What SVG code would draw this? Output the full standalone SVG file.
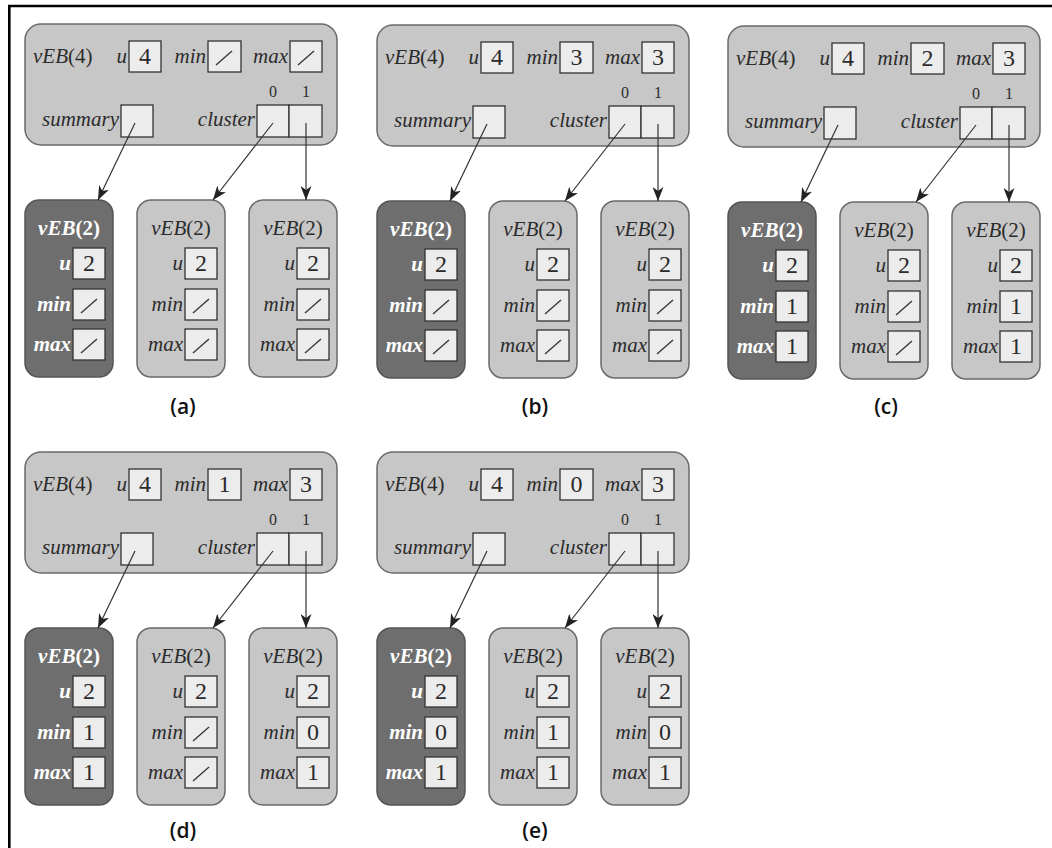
<svg xmlns="http://www.w3.org/2000/svg" width="1052" height="848" viewBox="0 0 1052 848">
<defs>
<style>
.bg{fill:#ffffff}
.frame{stroke:#000;stroke-width:2.6;fill:none}
.big{fill:#c7c7c7;stroke:#6a6a6a;stroke-width:1.5}
.light{fill:#c7c7c7;stroke:#6a6a6a;stroke-width:1.5}
.dark{fill:#6e6e6e;stroke:#555;stroke-width:1.5}
.box{fill:#ececec;stroke:#333;stroke-width:1.3}
.nil{stroke:#333;stroke-width:1.3;fill:none}
.lbl{font-family:"Liberation Serif",serif;font-size:21px;fill:#2b2b2b}
.it{font-style:italic}
.end{text-anchor:end}
.mid{text-anchor:middle}
.w{fill:#ffffff;font-weight:bold}
.num{font-family:"Liberation Serif",serif;font-size:24px;fill:#2b2b2b;text-anchor:middle}
.idx{font-family:"Liberation Serif",serif;font-size:16px;fill:#2b2b2b;text-anchor:middle}
.cap{font-family:"Open Sans","DejaVu Sans",sans-serif;font-size:21px;font-weight:600;fill:#111;text-anchor:middle}
.edges line{stroke:#333;stroke-width:1.2;marker-end:url(#ah)}
</style>
<marker id="ah" markerWidth="15" markerHeight="11" refX="14" refY="5.5" orient="auto" markerUnits="userSpaceOnUse">
<path d="M0,0 L14,5.5 L0,11 L4,5.5 z" fill="#222"/>
</marker>
</defs>
<rect class="bg" width="1052" height="848"/>
<path class="frame" d="M9.3,848 L9.3,6 L1052,6"/>

<!-- Panel (a) -->
<g id="panel-a" transform="translate(25,24)">
<g id="a-veb4">
<rect class="big" x="0" y="0" width="312" height="121" rx="16"/>
<text class="lbl" x="8" y="39"><tspan class="it">vEB</tspan>(4)</text>
<text class="lbl it end" x="102" y="39">u</text>
<rect class="box" x="104" y="17" width="32" height="31"/>
<text class="num" x="120" y="40">4</text>
<text class="lbl it end" x="181" y="39">min</text>
<rect class="box" x="183" y="17" width="33" height="31"/>
<path class="nil" d="M191,41 L207,27"/>
<text class="lbl it end" x="263" y="39">max</text>
<rect class="box" x="265" y="17" width="32" height="31"/>
<path class="nil" d="M273,41 L289,27"/>
<text class="lbl it end" x="94" y="102">summary</text>
<rect class="box" x="96" y="81" width="32" height="32"/>
<text class="lbl it end" x="230" y="102">cluster</text>
<rect class="box" x="232" y="81" width="32" height="32"/>
<rect class="box" x="264" y="81" width="33" height="32"/>
<text class="idx" x="248" y="73">0</text>
<text class="idx" x="281" y="73">1</text>
</g>
<g id="a-summary" transform="translate(0,176)">
<rect class="dark" width="88" height="177" rx="14"/>
<text class="lbl w mid" x="44" y="35"><tspan class="it">vEB</tspan>(2)</text>
<text class="lbl it w end" x="46" y="70">u</text>
<rect class="box" x="48" y="48" width="32" height="31"/>
<text class="num" x="64" y="71">2</text>
<text class="lbl it w end" x="46" y="111">min</text>
<rect class="box" x="48" y="89" width="32" height="31"/>
<path class="nil" d="M56,113 L72,99"/>
<text class="lbl it w end" x="46" y="151">max</text>
<rect class="box" x="48" y="129" width="32" height="31"/>
<path class="nil" d="M56,153 L72,139"/>
</g>
<g id="a-cluster0" transform="translate(112,176)">
<rect class="light" width="88" height="177" rx="14"/>
<text class="lbl mid" x="44" y="35"><tspan class="it">vEB</tspan>(2)</text>
<text class="lbl it end" x="46" y="70">u</text>
<rect class="box" x="48" y="48" width="32" height="31"/>
<text class="num" x="64" y="71">2</text>
<text class="lbl it end" x="46" y="111">min</text>
<rect class="box" x="48" y="89" width="32" height="31"/>
<path class="nil" d="M56,113 L72,99"/>
<text class="lbl it end" x="46" y="151">max</text>
<rect class="box" x="48" y="129" width="32" height="31"/>
<path class="nil" d="M56,153 L72,139"/>
</g>
<g id="a-cluster1" transform="translate(224,176)">
<rect class="light" width="88" height="177" rx="14"/>
<text class="lbl mid" x="44" y="35"><tspan class="it">vEB</tspan>(2)</text>
<text class="lbl it end" x="46" y="70">u</text>
<rect class="box" x="48" y="48" width="32" height="31"/>
<text class="num" x="64" y="71">2</text>
<text class="lbl it end" x="46" y="111">min</text>
<rect class="box" x="48" y="89" width="32" height="31"/>
<path class="nil" d="M56,113 L72,99"/>
<text class="lbl it end" x="46" y="151">max</text>
<rect class="box" x="48" y="129" width="32" height="31"/>
<path class="nil" d="M56,153 L72,139"/>
</g>
<g id="a-edges" class="edges">
<line x1="110" y1="99" x2="73" y2="176"/>
<line x1="248" y1="99" x2="188" y2="176"/>
<line x1="281" y1="99" x2="281" y2="176"/>
</g>
<text class="cap" x="158" y="390">(a)</text>
</g>

<!-- Panel (b) -->
<g id="panel-b" transform="translate(377,25)">
<g id="b-veb4">
<rect class="big" x="0" y="0" width="312" height="121" rx="16"/>
<text class="lbl" x="8" y="39"><tspan class="it">vEB</tspan>(4)</text>
<text class="lbl it end" x="102" y="39">u</text>
<rect class="box" x="104" y="17" width="32" height="31"/>
<text class="num" x="120" y="40">4</text>
<text class="lbl it end" x="181" y="39">min</text>
<rect class="box" x="183" y="17" width="33" height="31"/>
<text class="num" x="199.5" y="40">3</text>
<text class="lbl it end" x="263" y="39">max</text>
<rect class="box" x="265" y="17" width="32" height="31"/>
<text class="num" x="281" y="40">3</text>
<text class="lbl it end" x="94" y="102">summary</text>
<rect class="box" x="96" y="81" width="32" height="32"/>
<text class="lbl it end" x="230" y="102">cluster</text>
<rect class="box" x="232" y="81" width="32" height="32"/>
<rect class="box" x="264" y="81" width="33" height="32"/>
<text class="idx" x="248" y="73">0</text>
<text class="idx" x="281" y="73">1</text>
</g>
<g id="b-summary" transform="translate(0,176)">
<rect class="dark" width="88" height="177" rx="14"/>
<text class="lbl w mid" x="44" y="35"><tspan class="it">vEB</tspan>(2)</text>
<text class="lbl it w end" x="46" y="70">u</text>
<rect class="box" x="48" y="48" width="32" height="31"/>
<text class="num" x="64" y="71">2</text>
<text class="lbl it w end" x="46" y="111">min</text>
<rect class="box" x="48" y="89" width="32" height="31"/>
<path class="nil" d="M56,113 L72,99"/>
<text class="lbl it w end" x="46" y="151">max</text>
<rect class="box" x="48" y="129" width="32" height="31"/>
<path class="nil" d="M56,153 L72,139"/>
</g>
<g id="b-cluster0" transform="translate(112,176)">
<rect class="light" width="88" height="177" rx="14"/>
<text class="lbl mid" x="44" y="35"><tspan class="it">vEB</tspan>(2)</text>
<text class="lbl it end" x="46" y="70">u</text>
<rect class="box" x="48" y="48" width="32" height="31"/>
<text class="num" x="64" y="71">2</text>
<text class="lbl it end" x="46" y="111">min</text>
<rect class="box" x="48" y="89" width="32" height="31"/>
<path class="nil" d="M56,113 L72,99"/>
<text class="lbl it end" x="46" y="151">max</text>
<rect class="box" x="48" y="129" width="32" height="31"/>
<path class="nil" d="M56,153 L72,139"/>
</g>
<g id="b-cluster1" transform="translate(224,176)">
<rect class="light" width="88" height="177" rx="14"/>
<text class="lbl mid" x="44" y="35"><tspan class="it">vEB</tspan>(2)</text>
<text class="lbl it end" x="46" y="70">u</text>
<rect class="box" x="48" y="48" width="32" height="31"/>
<text class="num" x="64" y="71">2</text>
<text class="lbl it end" x="46" y="111">min</text>
<rect class="box" x="48" y="89" width="32" height="31"/>
<path class="nil" d="M56,113 L72,99"/>
<text class="lbl it end" x="46" y="151">max</text>
<rect class="box" x="48" y="129" width="32" height="31"/>
<path class="nil" d="M56,153 L72,139"/>
</g>
<g id="b-edges" class="edges">
<line x1="110" y1="99" x2="73" y2="176"/>
<line x1="248" y1="99" x2="188" y2="176"/>
<line x1="281" y1="99" x2="281" y2="176"/>
</g>
<text class="cap" x="158" y="389">(b)</text>
</g>

<!-- Panel (c) -->
<g id="panel-c" transform="translate(728,26)">
<g id="c-veb4">
<rect class="big" x="0" y="0" width="312" height="121" rx="16"/>
<text class="lbl" x="8" y="39"><tspan class="it">vEB</tspan>(4)</text>
<text class="lbl it end" x="102" y="39">u</text>
<rect class="box" x="104" y="17" width="32" height="31"/>
<text class="num" x="120" y="40">4</text>
<text class="lbl it end" x="181" y="39">min</text>
<rect class="box" x="183" y="17" width="33" height="31"/>
<text class="num" x="199.5" y="40">2</text>
<text class="lbl it end" x="263" y="39">max</text>
<rect class="box" x="265" y="17" width="32" height="31"/>
<text class="num" x="281" y="40">3</text>
<text class="lbl it end" x="94" y="102">summary</text>
<rect class="box" x="96" y="81" width="32" height="32"/>
<text class="lbl it end" x="230" y="102">cluster</text>
<rect class="box" x="232" y="81" width="32" height="32"/>
<rect class="box" x="264" y="81" width="33" height="32"/>
<text class="idx" x="248" y="73">0</text>
<text class="idx" x="281" y="73">1</text>
</g>
<g id="c-summary" transform="translate(0,176)">
<rect class="dark" width="88" height="177" rx="14"/>
<text class="lbl w mid" x="44" y="35"><tspan class="it">vEB</tspan>(2)</text>
<text class="lbl it w end" x="46" y="70">u</text>
<rect class="box" x="48" y="48" width="32" height="31"/>
<text class="num" x="64" y="71">2</text>
<text class="lbl it w end" x="46" y="111">min</text>
<rect class="box" x="48" y="89" width="32" height="31"/>
<text class="num" x="64" y="112">1</text>
<text class="lbl it w end" x="46" y="151">max</text>
<rect class="box" x="48" y="129" width="32" height="31"/>
<text class="num" x="64" y="152">1</text>
</g>
<g id="c-cluster0" transform="translate(112,176)">
<rect class="light" width="88" height="177" rx="14"/>
<text class="lbl mid" x="44" y="35"><tspan class="it">vEB</tspan>(2)</text>
<text class="lbl it end" x="46" y="70">u</text>
<rect class="box" x="48" y="48" width="32" height="31"/>
<text class="num" x="64" y="71">2</text>
<text class="lbl it end" x="46" y="111">min</text>
<rect class="box" x="48" y="89" width="32" height="31"/>
<path class="nil" d="M56,113 L72,99"/>
<text class="lbl it end" x="46" y="151">max</text>
<rect class="box" x="48" y="129" width="32" height="31"/>
<path class="nil" d="M56,153 L72,139"/>
</g>
<g id="c-cluster1" transform="translate(224,176)">
<rect class="light" width="88" height="177" rx="14"/>
<text class="lbl mid" x="44" y="35"><tspan class="it">vEB</tspan>(2)</text>
<text class="lbl it end" x="46" y="70">u</text>
<rect class="box" x="48" y="48" width="32" height="31"/>
<text class="num" x="64" y="71">2</text>
<text class="lbl it end" x="46" y="111">min</text>
<rect class="box" x="48" y="89" width="32" height="31"/>
<text class="num" x="64" y="112">1</text>
<text class="lbl it end" x="46" y="151">max</text>
<rect class="box" x="48" y="129" width="32" height="31"/>
<text class="num" x="64" y="152">1</text>
</g>
<g id="c-edges" class="edges">
<line x1="110" y1="99" x2="73" y2="176"/>
<line x1="248" y1="99" x2="188" y2="176"/>
<line x1="281" y1="99" x2="281" y2="176"/>
</g>
<text class="cap" x="158" y="388">(c)</text>
</g>

<!-- Panel (d) -->
<g id="panel-d" transform="translate(25,452)">
<g id="d-veb4">
<rect class="big" x="0" y="0" width="312" height="121" rx="16"/>
<text class="lbl" x="8" y="39"><tspan class="it">vEB</tspan>(4)</text>
<text class="lbl it end" x="102" y="39">u</text>
<rect class="box" x="104" y="17" width="32" height="31"/>
<text class="num" x="120" y="40">4</text>
<text class="lbl it end" x="181" y="39">min</text>
<rect class="box" x="183" y="17" width="33" height="31"/>
<text class="num" x="199.5" y="40">1</text>
<text class="lbl it end" x="263" y="39">max</text>
<rect class="box" x="265" y="17" width="32" height="31"/>
<text class="num" x="281" y="40">3</text>
<text class="lbl it end" x="94" y="102">summary</text>
<rect class="box" x="96" y="81" width="32" height="32"/>
<text class="lbl it end" x="230" y="102">cluster</text>
<rect class="box" x="232" y="81" width="32" height="32"/>
<rect class="box" x="264" y="81" width="33" height="32"/>
<text class="idx" x="248" y="73">0</text>
<text class="idx" x="281" y="73">1</text>
</g>
<g id="d-summary" transform="translate(0,176)">
<rect class="dark" width="88" height="177" rx="14"/>
<text class="lbl w mid" x="44" y="35"><tspan class="it">vEB</tspan>(2)</text>
<text class="lbl it w end" x="46" y="70">u</text>
<rect class="box" x="48" y="48" width="32" height="31"/>
<text class="num" x="64" y="71">2</text>
<text class="lbl it w end" x="46" y="111">min</text>
<rect class="box" x="48" y="89" width="32" height="31"/>
<text class="num" x="64" y="112">1</text>
<text class="lbl it w end" x="46" y="151">max</text>
<rect class="box" x="48" y="129" width="32" height="31"/>
<text class="num" x="64" y="152">1</text>
</g>
<g id="d-cluster0" transform="translate(112,176)">
<rect class="light" width="88" height="177" rx="14"/>
<text class="lbl mid" x="44" y="35"><tspan class="it">vEB</tspan>(2)</text>
<text class="lbl it end" x="46" y="70">u</text>
<rect class="box" x="48" y="48" width="32" height="31"/>
<text class="num" x="64" y="71">2</text>
<text class="lbl it end" x="46" y="111">min</text>
<rect class="box" x="48" y="89" width="32" height="31"/>
<path class="nil" d="M56,113 L72,99"/>
<text class="lbl it end" x="46" y="151">max</text>
<rect class="box" x="48" y="129" width="32" height="31"/>
<path class="nil" d="M56,153 L72,139"/>
</g>
<g id="d-cluster1" transform="translate(224,176)">
<rect class="light" width="88" height="177" rx="14"/>
<text class="lbl mid" x="44" y="35"><tspan class="it">vEB</tspan>(2)</text>
<text class="lbl it end" x="46" y="70">u</text>
<rect class="box" x="48" y="48" width="32" height="31"/>
<text class="num" x="64" y="71">2</text>
<text class="lbl it end" x="46" y="111">min</text>
<rect class="box" x="48" y="89" width="32" height="31"/>
<text class="num" x="64" y="112">0</text>
<text class="lbl it end" x="46" y="151">max</text>
<rect class="box" x="48" y="129" width="32" height="31"/>
<text class="num" x="64" y="152">1</text>
</g>
<g id="d-edges" class="edges">
<line x1="110" y1="99" x2="73" y2="176"/>
<line x1="248" y1="99" x2="188" y2="176"/>
<line x1="281" y1="99" x2="281" y2="176"/>
</g>
<text class="cap" x="158" y="386">(d)</text>
</g>

<!-- Panel (e) -->
<g id="panel-e" transform="translate(377,452)">
<g id="e-veb4">
<rect class="big" x="0" y="0" width="312" height="121" rx="16"/>
<text class="lbl" x="8" y="39"><tspan class="it">vEB</tspan>(4)</text>
<text class="lbl it end" x="102" y="39">u</text>
<rect class="box" x="104" y="17" width="32" height="31"/>
<text class="num" x="120" y="40">4</text>
<text class="lbl it end" x="181" y="39">min</text>
<rect class="box" x="183" y="17" width="33" height="31"/>
<text class="num" x="199.5" y="40">0</text>
<text class="lbl it end" x="263" y="39">max</text>
<rect class="box" x="265" y="17" width="32" height="31"/>
<text class="num" x="281" y="40">3</text>
<text class="lbl it end" x="94" y="102">summary</text>
<rect class="box" x="96" y="81" width="32" height="32"/>
<text class="lbl it end" x="230" y="102">cluster</text>
<rect class="box" x="232" y="81" width="32" height="32"/>
<rect class="box" x="264" y="81" width="33" height="32"/>
<text class="idx" x="248" y="73">0</text>
<text class="idx" x="281" y="73">1</text>
</g>
<g id="e-summary" transform="translate(0,176)">
<rect class="dark" width="88" height="177" rx="14"/>
<text class="lbl w mid" x="44" y="35"><tspan class="it">vEB</tspan>(2)</text>
<text class="lbl it w end" x="46" y="70">u</text>
<rect class="box" x="48" y="48" width="32" height="31"/>
<text class="num" x="64" y="71">2</text>
<text class="lbl it w end" x="46" y="111">min</text>
<rect class="box" x="48" y="89" width="32" height="31"/>
<text class="num" x="64" y="112">0</text>
<text class="lbl it w end" x="46" y="151">max</text>
<rect class="box" x="48" y="129" width="32" height="31"/>
<text class="num" x="64" y="152">1</text>
</g>
<g id="e-cluster0" transform="translate(112,176)">
<rect class="light" width="88" height="177" rx="14"/>
<text class="lbl mid" x="44" y="35"><tspan class="it">vEB</tspan>(2)</text>
<text class="lbl it end" x="46" y="70">u</text>
<rect class="box" x="48" y="48" width="32" height="31"/>
<text class="num" x="64" y="71">2</text>
<text class="lbl it end" x="46" y="111">min</text>
<rect class="box" x="48" y="89" width="32" height="31"/>
<text class="num" x="64" y="112">1</text>
<text class="lbl it end" x="46" y="151">max</text>
<rect class="box" x="48" y="129" width="32" height="31"/>
<text class="num" x="64" y="152">1</text>
</g>
<g id="e-cluster1" transform="translate(224,176)">
<rect class="light" width="88" height="177" rx="14"/>
<text class="lbl mid" x="44" y="35"><tspan class="it">vEB</tspan>(2)</text>
<text class="lbl it end" x="46" y="70">u</text>
<rect class="box" x="48" y="48" width="32" height="31"/>
<text class="num" x="64" y="71">2</text>
<text class="lbl it end" x="46" y="111">min</text>
<rect class="box" x="48" y="89" width="32" height="31"/>
<text class="num" x="64" y="112">0</text>
<text class="lbl it end" x="46" y="151">max</text>
<rect class="box" x="48" y="129" width="32" height="31"/>
<text class="num" x="64" y="152">1</text>
</g>
<g id="e-edges" class="edges">
<line x1="110" y1="99" x2="73" y2="176"/>
<line x1="248" y1="99" x2="188" y2="176"/>
<line x1="281" y1="99" x2="281" y2="176"/>
</g>
<text class="cap" x="158" y="386">(e)</text>
</g>
</svg>
